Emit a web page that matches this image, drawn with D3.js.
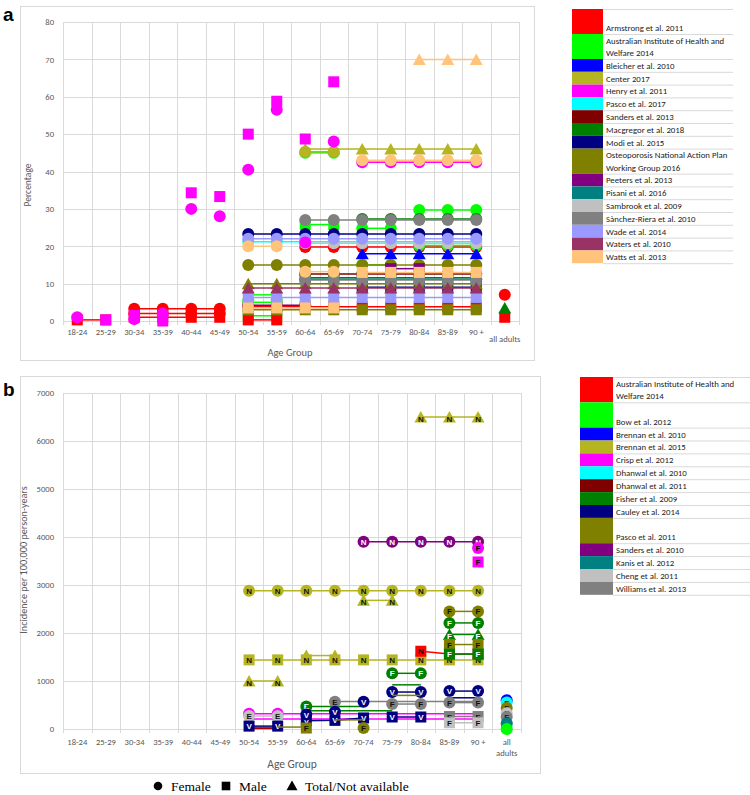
<!DOCTYPE html>
<html><head><meta charset="utf-8">
<script src="https://cdn.jsdelivr.net/npm/d3@7"></script>
<style>
body{margin:0;background:#fff;}
svg{display:block;}
text{font-family:Carlito, Lato, "Open Sans", sans-serif;}
</style>
</head><body>
<svg id="chart" width="750" height="795"></svg>
<script>
// ---------- shared ----------
const ageGroups = ["18-24","25-29","30-34","35-39","40-44","45-49","50-54","55-59","60-64","65-69","70-74","75-79","80-84","85-89","90 +","all adults"];
const yTicksA = [0,10,20,30,40,50,60,70,80];
const yTicksB = [0,1000,2000,3000,4000,5000,6000,7000];
const sexLabels = ["Female","Male","Total/Not available"];

// ---------- panel a: studies ----------
const studiesA = ["Armstrong et al. 2011","Australian Institute of Health and Welfare 2014","Bleicher et al. 2010","Center 2017","Henry et al. 2011","Pasco et al. 2017","Sanders et al. 2013","Macgregor et al. 2018","Modi et al. 2015","Osteoporosis National Action Plan Working Group 2016","Peeters et al. 2013","Pisani et al. 2016","Sambrook et al. 2009","Sànchez-Riera et al. 2010","Wade et al. 2014","Waters et al. 2010","Watts et al. 2013"];
const legendLinesA = [["","Armstrong et al. 2011"],["Australian Institute of Health and","Welfare 2014"],["Bleicher et al. 2010"],["Center 2017"],["Henry et al. 2011"],["Pasco et al. 2017"],["Sanders et al. 2013"],["Macgregor et al. 2018"],["Modi et al. 2015"],["Osteoporosis National Action Plan","Working Group 2016"],["Peeters et al. 2013"],["Pisani et al. 2016"],["Sambrook et al. 2009"],["Sànchez-Riera et al. 2010"],["Wade et al. 2014"],["Waters et al. 2010"],["Watts et al. 2013"]];
const colorsA = ["#FF0000","#00FF00","#0000FF","#B5B522","#FF00FF","#00FFFF","#800000","#008000","#000080","#808000","#800080","#008080","#C0C0C0","#808080","#9999FF","#993366","#FFC47A"];

// panel a series segments, in drawing order (study index, sex, first age-group index, values, line flag)
const segStudyA = [1,0,0,0,0,0,0,0,0,0, 1,1,1,1,1,1,1,1, 2, 3,3, 4, 5, 6, 7,7,7, 8,8, 9,9,9, 10,10, 11, 12, 13,13, 14,14, 15, 16,16,16,16,16,16, 4,4];
const segSexA   = ["M","M","M","F","F","M","F","M","F","M", "F","M","F","F","F","T","F","F", "T", "T","F", "F", "F", "F", "F","M","T", "F","M", "F","T","M", "F","M", "F", "F", "F","M", "F","M", "T", "F","F","F","M","M","T", "F","M"];
const segStartA = [6,0,2,2,2,6,8,6,15,15, 8,8,10,12,6,6,10,12, 10, 8,8, 10, 6, 8, 10,8,15, 6,10, 6,6,6, 6,11, 8, 8, 8,8, 6,6, 6, 6,8,10,6,10,12, 0,1];
const segValuesA = [
  [1.4,1.4],                                   // AIHW M
  [0.3,0.3],                                   // Armstrong M
  [1,1,1,1],                                   // Armstrong M
  [2,2,2,2],                                   // Armstrong F
  [3.3,3.3,3.3,3.3],                           // Armstrong F
  [0.3,0.3],                                   // Armstrong M
  [19.8,19.8,19.8,19.8,19.8,19.8,19.8],        // Armstrong F
  [3.8,3.8,3.8,3.8,3.8,3.8,3.8,3.8,3.8],       // Armstrong M
  [7],                                         // Armstrong all adults F
  [1],                                         // Armstrong all adults M
  [45,45],                                     // AIHW F
  [25.8,25.8],                                 // AIHW M
  [24.8,24.8],                                 // AIHW F
  [29.7,29.7,29.7],                            // AIHW F
  [5,5],                                       // AIHW F
  [7,7],                                       // AIHW T
  [15,15],                                     // AIHW F
  [20.2,20.2,20.2],                            // AIHW F
  [18,18,18,18,18],                            // Bleicher T
  [46,46,46,46,46,46,46],                      // Center T
  [45.3,45.3],                                 // Center F
  [42.5,42.5,42.5,42.5,42.5],                  // Henry F
  [21.2,21.2,21.2,21.2,21.2,21.2,21.2,21.2,21.2], // Pasco F
  [12.6,12.6,12.6,12.6,12.6,12.6,12.6],        // Sanders F
  [27.3,27.3,27.3,27.3,27.3],                  // Macgregor F
  [11.6,11.6,11.6,11.6,11.6,11.6,11.6],        // Macgregor M
  [3.5],                                       // Macgregor all adults T
  [23.3,23.3,23.3,23.3,23.3,23.3,23.3,23.3,23.3], // Modi F
  [9,9,9,9,9],                                 // Modi M
  [15,15,15,15,15,15,15,15,15],                // ONAP F
  [10,10,10,10,10,10,10,10,10],                // ONAP T
  [3,3,3,3,3,3,3,3,3],                         // ONAP M
  [4.2,4.2,4.2],                               // Peeters F
  [14,14],                                     // Peeters M
  [11.2,11.2,11.2,11.2,11.2,11.2,11.2],        // Pisani F
  [20.8,20.8,20.8,20.8,20.8,20.8,20.8],        // Sambrook F
  [27,27,27,27,27,27,27],                      // Sanchez-Riera F
  [11,11,11,11,11,11,11],                      // Sanchez-Riera M
  [22,22,22,22,22,22,22,22,22],                // Wade F
  [6.3,6.3,6.3,6.3,6.3,6.3,6.3,6.3,6.3],       // Wade M
  [8.8,8.8,8.8,8.8,8.8,8.8,8.8,8.8,8.8],       // Waters T
  [20,20],                                     // Watts F
  [13.2,13.2],                                 // Watts F
  [43,43,43,43,43],                            // Watts F
  [3.5,3.5,3.5,3.5],                           // Watts M
  [13,13,13,13,13],                            // Watts M
  [70,70,70],                                  // Watts T
  [1,null,0.5,2,30,28,40.5,56.5,21,48],        // Henry F (markers only)
  [0.3,1.5,0,34.3,33.3,50,58.8,48.7,64]        // Henry M (markers only)
];
// 1 = line and markers, 0 = markers only, 2 = line only
const segLineA = [1,1,1,1,1,1,1,1,0,0, 1,1,1,1,1,1,1,1, 1, 1,1, 1, 1, 1, 1,1,0, 1,1, 1,1,1, 1,1, 1, 1, 1,1, 1,1, 1, 1,1,1,1,1,1, 0,0];

// ---------- panel b: studies ----------
const studiesB = ["Australian Institute of Health and Welfare 2014","Bow et al. 2012","Brennan et al. 2010","Brennan et al. 2015","Crisp et al. 2012","Dhanwal et al. 2010","Dhanwal et al. 2011","Fisher et al. 2009","Cauley et al. 2014","Pasco et al. 2011","Sanders et al. 2010","Kanis et al. 2012","Cheng et al. 2011","Williams et al. 2013"];
const legendLinesB = [["Australian Institute of Health and","Welfare 2014"],["","Bow et al. 2012"],["Brennan et al. 2010"],["Brennan et al. 2015"],["Crisp et al. 2012"],["Dhanwal et al. 2010"],["Dhanwal et al. 2011"],["Fisher et al. 2009"],["Cauley et al. 2014"],["","Pasco et al. 2011"],["Sanders et al. 2010"],["Kanis et al. 2012"],["Cheng et al. 2011"],["Williams et al. 2013"]];
const colorsB = ["#FF0000","#00FF00","#0000FF","#B5B522","#FF00FF","#00FFFF","#800000","#008000","#000080","#808000","#800080","#008080","#C0C0C0","#808080"];

const segStudyB  = [6,0,4,4,4, 3,3,3,3,3,3, 10, 4,4, 0, 9,7,7,9,7, 7,7,7,7,7, 12,8, 13,13,8,8,8,8, 8,13,8,9, 8,8,13,13,12, 9,9,9,9, 2,5,9,12,13,11,11,1];
const segSexB    = ["F","M","F","F","M", "F","T","T","M","T","T", "F", "F","M", "M", "F","F","T","M","M", "F","F","F","F","M", "F","M", "F","F","F","F","M","F", "F","F","M","F", "F","M","F","M","M", "M","M","F","F", "F","F","F","F","F","F","M","F"];
const segLetterB = ["","","","E","", "N","N","N","N","N","N", "N", "F","F", "N", "F","F","F","F","F", "F","","E","","", "E","V", "E","","V","V","V","V", "V","F","V","", "V","","F","F","F", "","F","","F", "F","F","F","F","F","F","F",""];
const segStartB  = [6,6,6,6,6, 6,10,8,6,6,12, 10, 14,14, 12, 13,13,13,13,13, 11,11,8,8,8, 6,6, 9,9,10,9,8,8, 11,11,11,11, 13,13,13,13,13, 7,8,9,10, 15,15,15,15,15,15,15,15];
const segValuesB = [
  [10,10],                                     // Dhanwal 2011
  [30,30],                                     // AIHW line
  [320,320,320,320,320,320,320,320,320],       // Crisp F line
  [320,320],                                   // Crisp F markers
  [210,210,210,210,210,210,210,210,210],       // Crisp M line
  [2880,2880,2880,2880,2880,2880,2880,2880,2880], // Brennan 2015 F
  [2680,2680],                                 // Brennan 2015 T
  [1530,1530],                                 // Brennan 2015 T
  [1440,1440,1440,1440,1440,1440,1440,1440,1440], // Brennan 2015 M
  [1000,1000],                                 // Brennan 2015 T
  [6500,6500,6500],                            // Brennan 2015 T
  [3900,3900,3900,3900,3900],                  // Sanders 2010 F
  [3770],                                      // Crisp F
  [3480],                                      // Crisp M
  [1620,1560,1560],                            // AIHW M
  [2450,2450],                                 // Pasco 2011 F
  [2210,2210],                                 // Fisher F
  [1970,1970],                                 // Fisher T
  [1760,1760],                                 // Pasco 2011 M
  [1560,1560],                                 // Fisher M
  [1160,1160],                                 // Fisher F
  [920,920],                                   // Fisher line
  [470],                                       // Fisher E
  [470,470,470],                               // Fisher E line
  [380,380,380,380],                           // Fisher M line
  [270,270],                                   // Cheng F
  [60,60],                                     // Cauley M
  [570],                                       // Williams F
  [575,575,575,575,575,575],                   // Williams line
  [570],                                       // Cauley F
  [360],                                       // Cauley F
  [170,180,230],                               // Cauley M
  [300],                                       // Cauley F
  [770,770],                                   // Cauley F
  [520,520],                                   // Williams F
  [250,250],                                   // Cauley M
  [700,700],                                   // Pasco 2011 line
  [790,790],                                   // Cauley F
  [650,650],                                   // Cauley line
  [550,550],                                   // Williams F
  [260,260],                                   // Williams M
  [130,130],                                   // Cheng M
  [40,40],                                     // Pasco 2011 line
  [20],                                        // Pasco 2011 M
  [190,190],                                   // Pasco 2011 line
  [20],                                        // Pasco 2011 F
  [600],                                       // Brennan 2010 all adults
  [550],                                       // Dhanwal 2010 all adults
  [440],                                       // Pasco 2011 all adults
  [330],                                       // Cheng all adults
  [250],                                       // Williams all adults
  [120],                                       // Kanis all adults F
  [50],                                        // Kanis all adults M
  [0]                                          // Bow all adults
];
const segLineB = [2,2,2,0,2, 1,1,1,1,1,1, 1, 0,0, 1, 1,1,1,1,1, 1,2,0,2,2, 1,1, 0,2,0,0,1,0, 1,1,1,2, 1,2,1,1,1, 2,0,2,0, 0,0,0,0,0,0,0,0];

// ---------- drawing ----------
const svg = d3.select("#chart");
const GRID = "#d9d9d9", TXT = "#595959";
const darkColors = new Set(["#800080","#008000","#000080","#800000","#008080","#0000FF"]);

function marker(g, sex, cx, cy, color, letter) {
  let m;
  if (sex === "F") m = g.append("circle").attr("cx", cx).attr("cy", cy).attr("r", 6);
  else if (sex === "M") m = g.append("rect").attr("x", cx - 5.5).attr("y", cy - 5.5).attr("width", 11).attr("height", 11);
  else m = g.append("path").attr("d", `M${cx},${cy - 6}L${cx + 6.5},${cy + 5.5}L${cx - 6.5},${cy + 5.5}Z`);
  m.attr("fill", color);
  if (letter) {
    g.append("text").attr("x", cx).attr("y", cy + (sex === "T" ? 5 : 3)).attr("text-anchor", "middle")
      .style("font-family", "'Liberation Sans', Arial, sans-serif").style("font-weight", "bold").style("font-size", "8px")
      .attr("fill", darkColors.has(color) ? "#fff" : "#111").text(letter);
  }
}

function panel(cfg) {
  const x = d3.scaleBand().domain(ageGroups).range([cfg.left, cfg.right]);
  const y = d3.scaleLinear().domain([0, cfg.max]).range([cfg.bottom, cfg.top]);
  // frame
  svg.append("rect").attr("x", cfg.frame[0] + 0.5).attr("y", cfg.frame[1] + 0.5).attr("width", cfg.frame[2]).attr("height", cfg.frame[3])
    .attr("fill", "none").attr("stroke", GRID);
  // grid
  const grid = svg.append("g");
  cfg.ticks.forEach(t => grid.append("line").attr("x1", cfg.left).attr("x2", cfg.right)
    .attr("y1", Math.round(y(t)) + 0.5).attr("y2", Math.round(y(t)) + 0.5).attr("stroke", GRID).attr("stroke-width", 1));
  ageGroups.forEach(a => grid.append("line").attr("x1", Math.round(x(a)) + 0.5).attr("x2", Math.round(x(a)) + 0.5)
    .attr("y1", cfg.top).attr("y2", cfg.bottom + 4).attr("stroke", GRID));
  grid.append("line").attr("x1", cfg.right + 0.5).attr("x2", cfg.right + 0.5).attr("y1", cfg.top).attr("y2", cfg.bottom + 4).attr("stroke", GRID);
  // axes
  const ya = svg.append("g").attr("transform", `translate(${cfg.left},0)`)
    .call(d3.axisLeft(y).tickValues(cfg.ticks).tickFormat(d3.format("d")).tickSize(0).tickPadding(9));
  ya.select(".domain").remove();
  ya.selectAll("text").attr("fill", TXT).style("font-size", cfg.tickFont).style("font-family", "Carlito, Lato, sans-serif");
  const xa = svg.append("g").attr("transform", `translate(0,${cfg.bottom})`)
    .call(d3.axisBottom(x).tickSize(0).tickPadding(cfg.xPad));
  xa.select(".domain").remove();
  xa.selectAll("text").attr("fill", TXT).style("font-size", cfg.tickFont).style("font-family", "Carlito, Lato, sans-serif");
  xa.selectAll(".tick").filter(d => d === "all adults").select("text").each(function () {
    const t = d3.select(this);
    if (cfg.splitAll) {
      t.text(null);
      t.append("tspan").attr("x", 0).attr("dy", "0.71em").text("all");
      t.append("tspan").attr("x", 0).attr("dy", "1.25em").text("adults");
    } else t.attr("y", cfg.xPad + 7);
  });
  // titles
  svg.append("text").attr("x", cfg.xTitle[0]).attr("y", cfg.xTitle[1]).attr("text-anchor", "middle")
    .attr("fill", TXT).style("font-size", cfg.titleFont).text("Age Group");
  svg.append("text").attr("transform", `translate(${cfg.yTitle[0]},${cfg.yTitle[1]}) rotate(-90)`).attr("text-anchor", "middle")
    .attr("fill", TXT).style("font-size", cfg.yTitleFont).text(cfg.yLabel);
  svg.append("text").attr("x", cfg.letterPos[0]).attr("y", cfg.letterPos[1])
    .style("font-family", "'Liberation Sans', Arial, sans-serif").style("font-weight", "bold").style("font-size", "19px")
    .attr("fill", "#000").text(cfg.letter);
  // series
  const cx = i => x(ageGroups[i]) + x.bandwidth() / 2;
  const layer = svg.append("g");
  cfg.segStudy.forEach((s, k) => {
    const color = cfg.colors[s];
    const pts = cfg.segValues[k].map((v, j) => ({ i: cfg.segStart[k] + j, v })).filter(p => p.v !== null);
    const g = layer.append("g");
    if (cfg.segLine[k] !== 0 && pts.length > 1) {
      g.append("path").attr("d", d3.line().x(p => cx(p.i)).y(p => y(p.v))(pts))
        .attr("fill", "none").attr("stroke", color).attr("stroke-width", 1.5);
    }
    if (cfg.segLine[k] !== 2) {
      pts.forEach(p => marker(g, cfg.segSex[k], cx(p.i), y(p.v), color, cfg.segLetter ? cfg.segLetter[k] : ""));
    }
  });
  // legend
  const lg = svg.append("g");
  let yy = cfg.legTop;
  cfg.legendLines.forEach((lines, i) => {
    const h = lines.length > 1 ? cfg.rowH2 : cfg.rowH;
    lg.append("rect").attr("x", cfg.legX).attr("y", yy).attr("width", cfg.swW).attr("height", h).attr("fill", cfg.colors[i]);
    lg.append("line").attr("x1", cfg.legX + cfg.swW).attr("x2", cfg.legRight).attr("y1", yy + 0.5).attr("y2", yy + 0.5).attr("stroke", GRID);
    lines.forEach((ln, j) => {
      lg.append("text").attr("x", cfg.legX + cfg.swW + 3).attr("y", yy + (j + 1) * (h / lines.length) - 3)
        .attr("fill", "#222").style("font-size", cfg.legFont).text(ln);
    });
    yy += h;
  });
  lg.append("line").attr("x1", cfg.legX + cfg.swW).attr("x2", cfg.legRight).attr("y1", yy + 0.5).attr("y2", yy + 0.5).attr("stroke", GRID);
}

panel({
  left: 63, right: 519, top: 22, bottom: 321, max: 80, ticks: yTicksA,
  frame: [20, 6, 514, 354], tickFont: "8.6px", xPad: 8, splitAll: false,
  xTitle: [290, 356], titleFont: "10.5px", yTitle: [31, 185], yTitleFont: "9.5px", yLabel: "Percentage",
  letter: "a", letterPos: [3, 21],
  colors: colorsA, segStudy: segStudyA, segSex: segSexA, segStart: segStartA, segValues: segValuesA, segLine: segLineA,
  legendLines: legendLinesA, legTop: 9, legX: 572, swW: 31, legRight: 733, rowH: 12.8, rowH2: 25, legFont: "8.8px"
});

panel({
  left: 63, right: 521, top: 393, bottom: 729, max: 7000, ticks: yTicksB,
  frame: [20, 376, 520, 397], tickFont: "8.6px", xPad: 10, splitAll: true,
  xTitle: [292, 768], titleFont: "11.5px", yTitle: [27, 560], yTitleFont: "10.2px", yLabel: "Incidence per 100,000 person-years",
  letter: "b", letterPos: [3, 396],
  colors: colorsB, segStudy: segStudyB, segSex: segSexB, segLetter: segLetterB, segStart: segStartB, segValues: segValuesB, segLine: segLineB,
  legendLines: legendLinesB, legTop: 377, legX: 580, swW: 33, legRight: 750, rowH: 12.9, rowH2: 25.3, legFont: "8.8px"
});

// bottom key
const key = svg.append("g");
const keyX = [158, 226, 292];
sexLabels.forEach((lab, i) => {
  const kx = keyX[i], ky = 786;
  if (i === 0) key.append("circle").attr("cx", kx).attr("cy", ky).attr("r", 4.3).attr("fill", "#000");
  else if (i === 1) key.append("rect").attr("x", kx - 4.3).attr("y", ky - 4.3).attr("width", 8.6).attr("height", 8.6).attr("fill", "#000");
  else key.append("path").attr("d", `M${kx},${ky - 5.5}L${kx + 5.5},${ky + 4.3}L${kx - 5.5},${ky + 4.3}Z`).attr("fill", "#000");
  key.append("text").attr("x", kx + 13).attr("y", ky + 4.6).attr("fill", "#000")
    .style("font-family", "'Liberation Serif', 'Times New Roman', serif").style("font-size", "13.5px").text(lab);
});
</script>
</body></html>
